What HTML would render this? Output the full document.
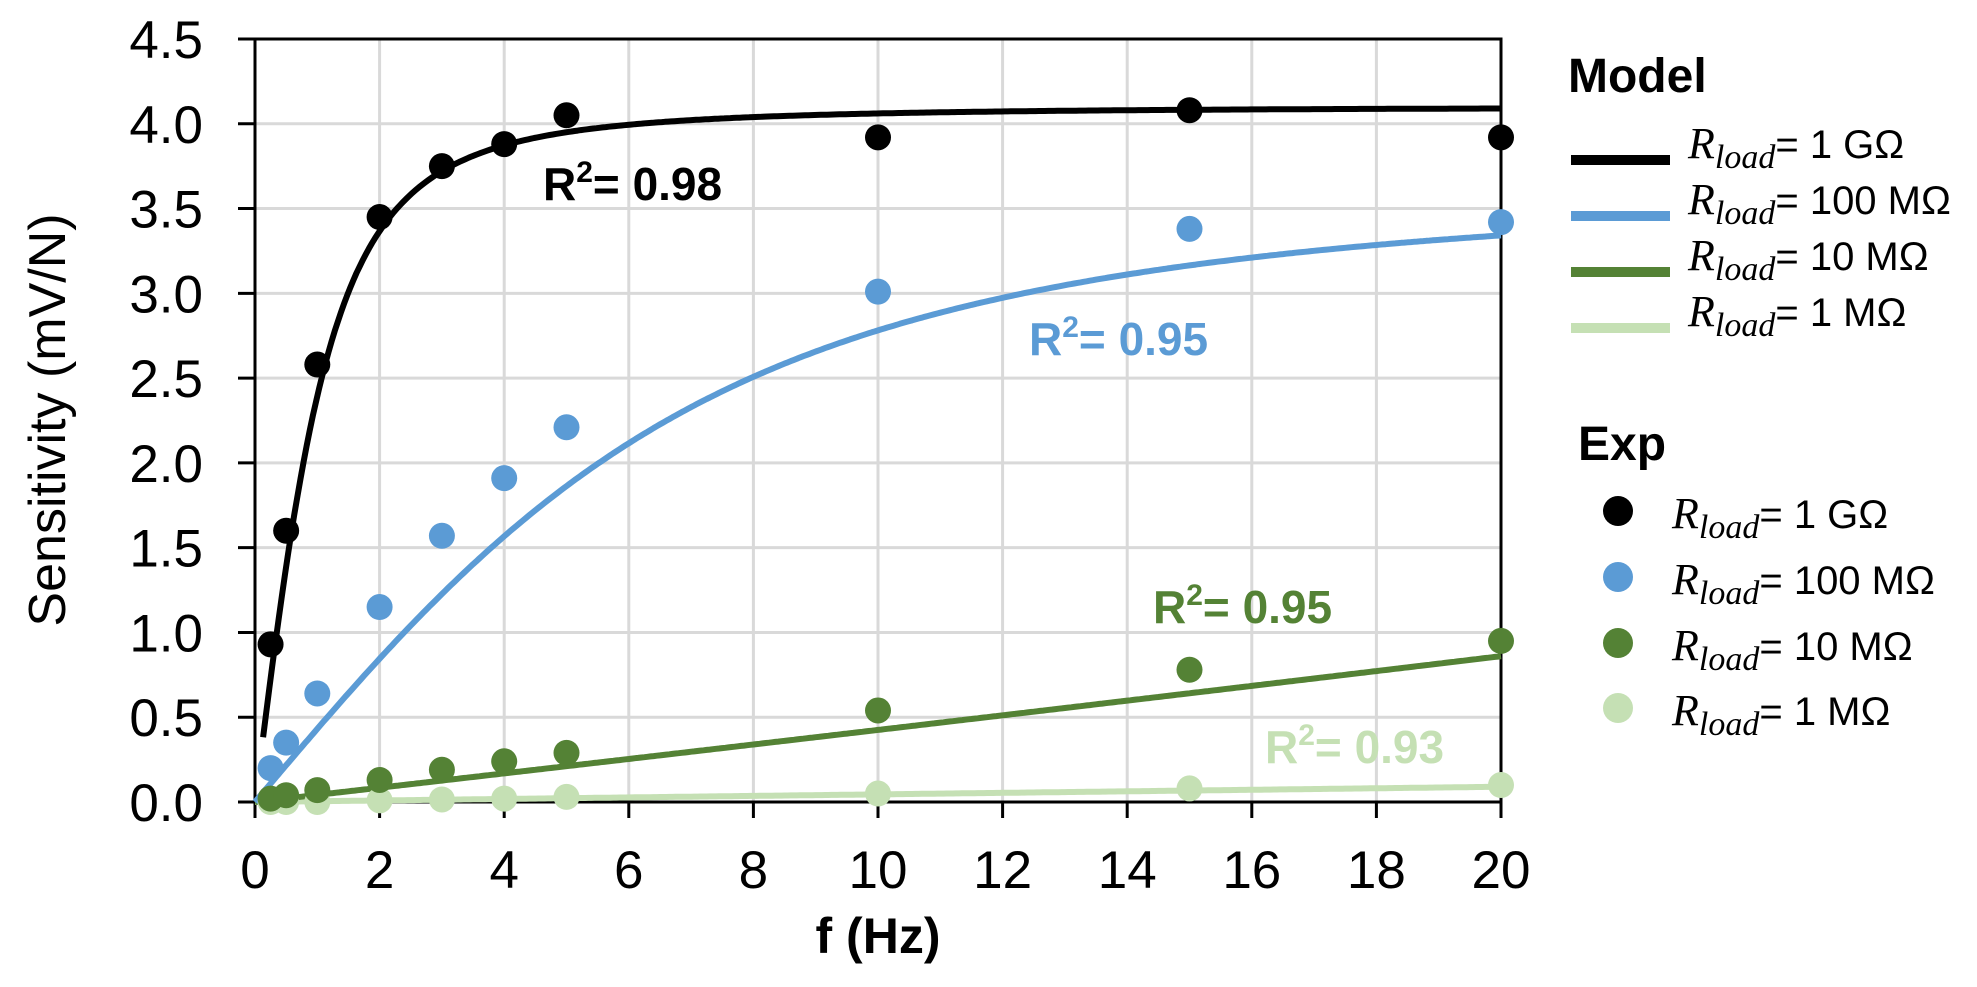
<!DOCTYPE html>
<html><head><meta charset="utf-8">
<style>
html,body{margin:0;padding:0;background:#fff;}
svg{display:block;font-family:"Liberation Sans",Arial,sans-serif;}
.tk{font-size:53px;fill:#000;}
.r2{font-size:46px;font-weight:bold;}
.lg{font-size:40px;}
.rs{font-family:"Liberation Serif",serif;font-style:italic;}
</style></head>
<body>
<svg id="s" width="1977" height="987" viewBox="0 0 1977 987" xmlns="http://www.w3.org/2000/svg">
<g id="grid" stroke="#d9d9d9" stroke-width="3"></g>
<g id="axes" stroke="#000" stroke-width="3" fill="none"></g>
<g id="curves" fill="none" stroke-width="6" stroke-linejoin="round"></g>
<g id="pts"></g>
<g id="labels"></g>
<text x="543" y="200" class="r2" fill="#000">R<tspan dy="-18" font-size="30">2</tspan><tspan dy="18">= 0.98</tspan></text>
<text x="1029" y="355" class="r2" fill="#5b9bd5">R<tspan dy="-18" font-size="30">2</tspan><tspan dy="18">= 0.95</tspan></text>
<text x="1153" y="623" class="r2" fill="#548235">R<tspan dy="-18" font-size="30">2</tspan><tspan dy="18">= 0.95</tspan></text>
<text x="1265" y="763" class="r2" fill="#c5e0b4">R<tspan dy="-18" font-size="30">2</tspan><tspan dy="18">= 0.93</tspan></text>
<text x="878" y="953" text-anchor="middle" font-size="50" font-weight="bold">f (Hz)</text>
<text transform="translate(65,420) rotate(-90)" text-anchor="middle" font-size="52">Sensitivity (mV/N)</text>
<text x="1568" y="92" font-size="48" font-weight="bold">Model</text>
<text x="1578" y="460" font-size="48" font-weight="bold">Exp</text>
<g id="legend"></g>
</svg>
<script>
var NS="http://www.w3.org/2000/svg";
function el(p,t,a,txt){var e=document.createElementNS(NS,t);for(var k in a)e.setAttribute(k,a[k]);if(txt!==undefined)e.textContent=txt;document.getElementById(p).appendChild(e);return e;}
var X0=255,X1=1501,Y0=802,Y1=39;
function X(f){return X0+(X1-X0)*f/20;}
function Y(v){return Y0-(Y0-Y1)*v/4.5;}
for(var i=1;i<=10;i++){el('grid','line',{x1:X(i*2),x2:X(i*2),y1:Y1,y2:Y0});}
for(var j=1;j<=9;j++){el('grid','line',{x1:X0,x2:X1,y1:Y(j*0.5),y2:Y(j*0.5)});}
el('axes','rect',{x:X0,y:Y1,width:X1-X0,height:Y0-Y1});
for(var i=0;i<=10;i++){el('axes','line',{x1:X(i*2),x2:X(i*2),y1:Y0,y2:Y0+16});
 el('labels','text',{x:X(i*2),y:888,'text-anchor':'middle','class':'tk'},String(i*2));}
for(var j=0;j<=9;j++){el('axes','line',{x1:X0-17,x2:X0,y1:Y(j*0.5),y2:Y(j*0.5)});
 el('labels','text',{x:203,y:Y(j*0.5)+19,'text-anchor':'end','class':'tk'},(j*0.5).toFixed(1));}
function curve(fn,f0,col){var d='';for(var f=f0;f<=20.001;f+=0.05){d+=(d?'L':'M')+X(f).toFixed(1)+','+Y(fn(f)).toFixed(1);}el('curves','path',{d:d,stroke:col});}
function rc(A,fc){return function(f){var x=f/fc;return A*x/Math.sqrt(1+x*x);};}
curve(function(f){return 0.0045*f;},0,'#c5e0b4');
curve(function(f){return 0.042*f+0.00005*f*f;},0,'#548235');
curve(rc(3.62,8.33),0,'#5b9bd5');
curve(rc(4.1,1.39),0.13,'#000');
var fs=[0.25,0.5,1,2,3,4,5,10,15,20];
var data=[
['#c5e0b4',[0,0,0,0.01,0.015,0.02,0.03,0.05,0.08,0.1]],
['#548235',[0.02,0.04,0.07,0.13,0.19,0.24,0.29,0.54,0.78,0.95]],
['#5b9bd5',[0.2,0.35,0.64,1.15,1.57,1.91,2.21,3.01,3.38,3.42]],
['#000',[0.93,1.6,2.58,3.45,3.75,3.88,4.05,3.92,4.08,3.92]]];
data.forEach(function(s){s[1].forEach(function(v,i){el('pts','circle',{cx:X(fs[i]),cy:Y(v),r:13,fill:s[0]});});});
var cols=['#000','#5b9bd5','#548235','#c5e0b4'],names=['1 GΩ','100 MΩ','10 MΩ','1 MΩ'];
var ly=[160,216,272,328],my=[511,577,643,708];
for(var k=0;k<4;k++){
 el('legend','line',{x1:1571,x2:1670,y1:ly[k],y2:ly[k],stroke:cols[k],'stroke-width':10});
 var t=el('legend','text',{x:1688,y:ly[k]-2,'class':'lg'});
 t.innerHTML='<tspan class="rs" font-size="44">R</tspan><tspan class="rs" font-size="34" dy="10">load</tspan><tspan dy="-10">= '+names[k]+'</tspan>';
 el('legend','circle',{cx:1618,cy:my[k],r:15,fill:cols[k]});
 var t2=el('legend','text',{x:1672,y:my[k]+17,'class':'lg'});
 t2.innerHTML='<tspan class="rs" font-size="44">R</tspan><tspan class="rs" font-size="34" dy="10">load</tspan><tspan dy="-10">= '+names[k]+'</tspan>';
}
</script>
</body></html>
